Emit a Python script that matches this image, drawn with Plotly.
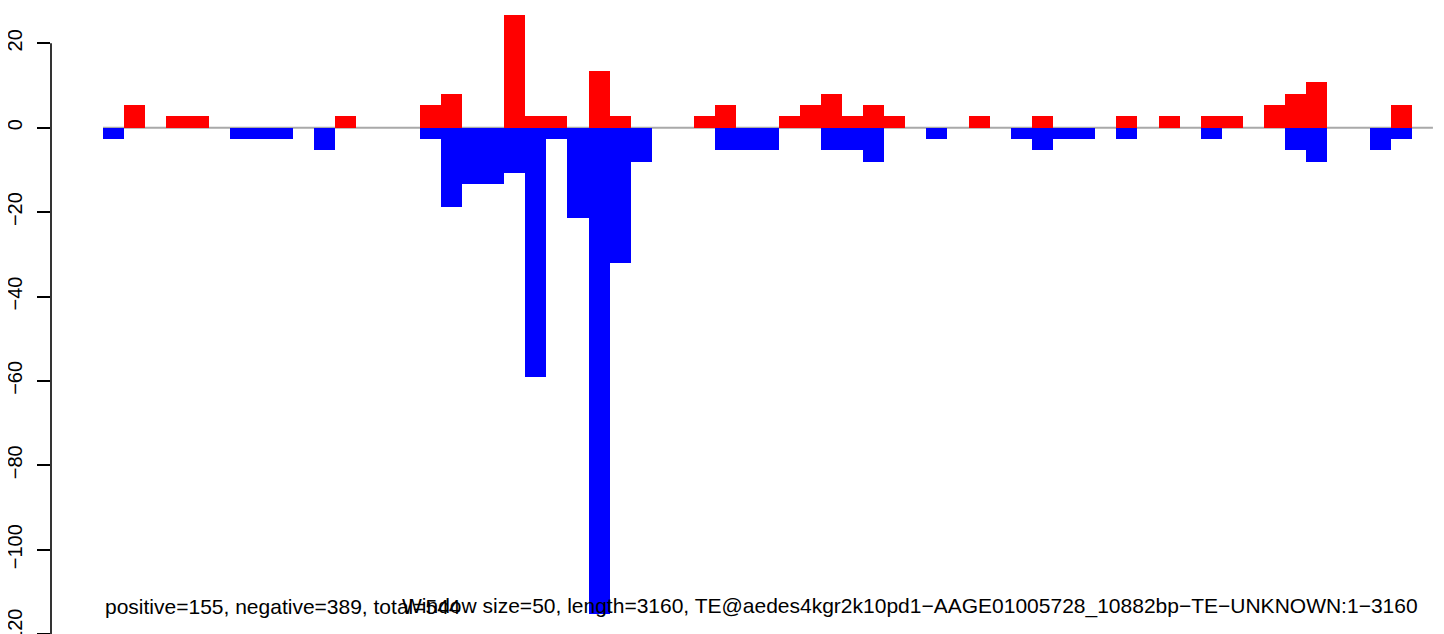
import plotly.graph_objects as go

window = 50
length = 3160
win_start = list(range(0, length, window))  # 64 windows

pos_vals = [0, 5.36, 0, 2.68, 2.68, 0, 0, 0, 0, 0,
            0, 2.68, 0, 0, 0, 5.36, 8.04, 0, 0, 26.8,
            2.68, 2.68, 0, 13.4, 2.68, 0, 0, 0, 2.68, 5.36,
            0, 0, 2.68, 5.36, 8.04, 2.68, 5.36, 2.68, 0, 0,
            0, 2.68, 0, 0, 2.68, 0, 0, 0, 2.68, 0,
            2.68, 0, 2.68, 2.68, 0, 5.36, 8.04, 10.72, 0, 0,
            0, 5.36, 0, 0]

neg_vals = [-2.68, 0, 0, 0, 0, 0, -2.68, -2.68, -2.68, 0,
            -5.36, 0, 0, 0, 0, -2.68, -18.76, -13.4, -13.4, -10.72,
            -58.96, -2.68, -21.44, -115.24, -32.16, -8.04, 0, 0, 0, -5.36,
            -5.36, -5.36, 0, 0, -5.36, -5.36, -8.04, 0, 0, -2.68,
            0, 0, 0, -2.68, -5.36, -2.68, -2.68, 0, -2.68, 0,
            0, 0, -2.68, 0, 0, 0, -5.36, -8.04, 0, 0,
            -5.36, -2.68, 0, 0]

y_ticks = [20, 0, -20, -40, -60, -80, -100, -120]
y_ticktext = ["20", "0", "\u221220", "\u221240", "\u221260", "\u221280", "\u2212100", "\u2212120"]

left_text = "positive=155, negative=389, total=544"
right_text = ("Window size=50, length=3160, "
              "TE@aedes4kgr2k10pd1\u2212AAGE01005728_10882bp\u2212TE\u2212UNKNOWN:1\u22123160")

font = "Liberation Sans, Arial, Helvetica, sans-serif"
W, H = 1444, 634
pad = 8                      # page offset of the plot div
ml = 51 - pad
px_per_bp = 21.11 / window
x_left = -(103 - 51) / px_per_bp
x_right = x_left + (W - ml) / px_per_bp
px_per_unit = 4.22
y_top = (127.7 - pad) / px_per_unit
y_bot = y_top - H / px_per_unit

fig = go.Figure()
fig.add_trace(go.Bar(x=win_start, y=pos_vals, width=window, offset=0,
                     marker=dict(color="#FF0000", line=dict(width=0))))
fig.add_trace(go.Bar(x=win_start, y=neg_vals, width=window, offset=0,
                     marker=dict(color="#0000FF", line=dict(width=0))))

# zero line and R-style y axis line
fig.add_shape(type="line", xref="x", yref="y", x0=win_start[0], x1=win_start[-1], y0=0, y1=0,
              line=dict(color="#A9A9A9", width=2), layer="below")
fig.add_shape(type="line", xref="paper", yref="y", x0=0, x1=0, y0=y_ticks[-1], y1=y_ticks[0],
              line=dict(color="black", width=1.6))

text_y = 1 - (606 - pad) / H
fig.add_annotation(text=left_text, xref="x", yref="paper", x=0, y=text_y,
                   xanchor="left", yanchor="middle", showarrow=False,
                   font=dict(family=font, size=21, color="black"))
fig.add_annotation(text=right_text, xref="paper", yref="paper", x=(1420 - pad - ml) / (W - ml), y=text_y,
                   xanchor="right", yanchor="middle", showarrow=False,
                   font=dict(family=font, size=21, color="black"))

fig.update_layout(
    width=W, height=H,
    margin=dict(l=ml, r=0, t=0, b=0, autoexpand=False),
    plot_bgcolor="white", paper_bgcolor="white",
    barmode="overlay", bargap=0,
    showlegend=False,
    font=dict(family=font, color="black"),
)
fig.update_xaxes(range=[x_left, x_right], visible=False, automargin=False)
fig.update_yaxes(range=[y_bot, y_top], tickmode="array", tickvals=y_ticks, ticktext=y_ticktext,
                 ticks="outside", ticklen=13, tickwidth=1.6, tickcolor="black",
                 tickangle=-90, tickfont=dict(family=font, size=20, color="black"),
                 ticklabelstandoff=7, automargin=False,
                 showgrid=False, zeroline=False, showline=False, ticklabeloverflow="allow")

fig.write_html("out.html")
